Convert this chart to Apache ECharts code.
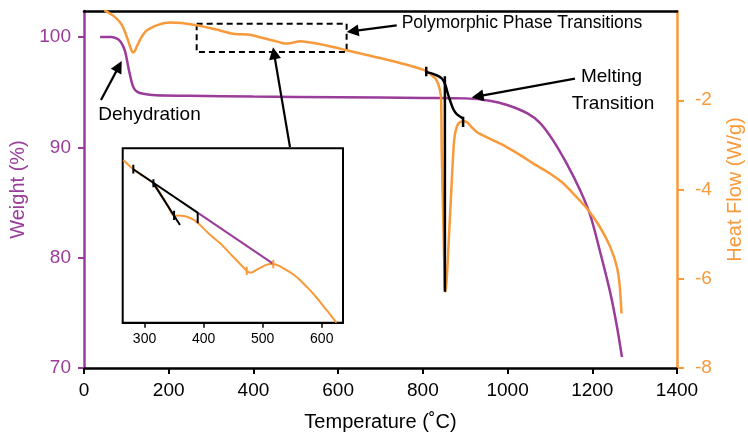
<!DOCTYPE html>
<html>
<head>
<meta charset="utf-8">
<script src="https://cdn.jsdelivr.net/npm/echarts@6/dist/echarts.min.js"></script>
<style>
  html, body { margin: 0; padding: 0; background: #fff; }
  #chart { width: 748px; height: 436px; }
</style>
</head>
<body>
<div id="chart"></div>
<script>
// Fonts and colours
const FONT = "'Liberation Sans', Arial, sans-serif";
const PURPLE = '#9a3c9a';
const ORANGE = '#f8993a';
const BLACK = '#000';

// Axis ticks
const tempTicks = [0, 200, 400, 600, 800, 1000, 1200, 1400];
const weightTicks = [70, 80, 90, 100];
const heatTicks = [-8, -6, -4, -2];
const insetTempTicks = [300, 400, 500, 600];

// TGA: weight loss vs temperature
const weightTemp = [38, 65, 78, 86, 92, 97, 101, 105, 109, 113, 118, 125, 140, 170, 250, 400, 600, 800, 900,
  958, 999, 1046, 1077, 1107, 1140, 1171, 1195, 1218, 1242, 1258, 1270];
const weightPct = [100, 100, 99.85, 99.6, 99.2, 98.7, 98.0, 97.2, 96.5, 95.85, 95.35, 95.05, 94.85, 94.72, 94.68, 94.6, 94.55, 94.48, 94.44,
  94.23, 93.84, 93.1, 92.2, 90.66, 88.5, 86.13, 83.87, 80.6, 76.9, 73.8, 71.0];

// DSC: heat flow vs temperature
const heatTemp = [48, 65, 77, 85, 92, 98, 104, 110, 115, 119, 124, 130, 136, 145, 156, 175, 203, 230, 266, 310,
  352, 392, 420, 446, 465, 478, 492, 510, 530, 549, 580, 620, 660, 706, 760, 805, 821, 830, 836, 840,
  843, 844.5, 848, 852, 854, 857, 860, 868, 873, 877, 884, 895, 904, 915, 927, 960, 998, 1030, 1061,
  1100, 1130, 1155, 1187, 1218, 1242, 1258, 1265, 1269];
const heatFlow = [0.02, -0.08, -0.17, -0.25, -0.36, -0.5, -0.66, -0.83, -0.93, -0.91, -0.81, -0.69, -0.58, -0.46, -0.39, -0.31, -0.26, -0.27, -0.32, -0.41,
  -0.51, -0.53, -0.6, -0.66, -0.71, -0.73, -0.71, -0.68, -0.7, -0.73, -0.79, -0.88, -0.97, -1.07, -1.2, -1.33, -1.44, -1.52, -1.63, -1.76,
  -1.95, -3.1, -4.6, -6.2, -6.29, -5.9, -5.36, -3.86, -3.0, -2.7, -2.52, -2.47, -2.49, -2.6, -2.71, -2.87, -3.05, -3.23, -3.42,
  -3.64, -3.85, -4.09, -4.42, -4.84, -5.28, -5.73, -6.18, -6.78];

// Melting onset construction (heat-flow units)
const meltCurveTemp = [809, 830, 844.5, 852, 858, 864, 872, 880, 895.5];
const meltCurveHeat = [-1.37, -1.43, -1.51, -1.63, -1.82, -2.0, -2.2, -2.31, -2.41];
const meltPeakTemp = 852;
const meltPeakRange = [-1.46, -6.29];
const meltTickTemp = [808, 895];
const meltTickTop = [-1.25, -2.37];
const meltTickBottom = [-1.46, -2.60];

// Polymorphic region box (temperature, heat flow)
const polyBoxTemp = [266, 620];
const polyBoxHeat = [-0.283, -0.919];

// Inset: enlarged polymorphic region (arbitrary heat-flow units)
const insetTemp = [264, 281, 298, 315, 332, 341, 350, 358, 366, 374, 382, 390, 410, 428, 450, 473, 477, 481,
  488, 496, 505, 512, 518, 528, 540, 552, 563, 575, 585, 597, 608, 617, 625];
const insetHeat = [93.3, 88.0, 84.0, 79.9, 71.3, 66.0, 61.2, 61.5, 61.2, 60.5, 59.2, 57.3, 50.7, 45.5, 37.8, 29.8, 28.8, 28.8,
  30.0, 31.5, 33.0, 33.6, 33.7, 32.6, 30.2, 27.6, 24.5, 20.4, 16.9, 12.0, 7.3, 3.5, 0];
const insetTangentA = [[281, 88.0], [391, 62.8]];
const insetTangentB = [[315, 79.9], [360, 56.0]];
const insetBaseline = [[391, 62.8], [518, 33.7]];
const insetBlackTickTemp = [281, 315, 350, 390];
const insetBlackTickTop = [90.5, 82.2, 64.2, 63.1];
const insetBlackTickBottom = [85.5, 77.6, 58.9, 57.0];
const insetOrangeTickTemp = [473, 518];
const insetOrangeTickTop = [32.1, 36.0];
const insetOrangeTickBottom = [27.4, 31.2];

// Annotation arrows: [start, end] in data units
const dehydrationArrow = [[40.1, 94.29], [82.4, 97.34]];          // weight axis
const polymorphArrow = [[738.2, -0.321], [634.3, -0.453]];        // heat-flow axis
const insetArrow = [[486.3, -3.05], [448.6, -0.946]];             // heat-flow axis
const meltingArrow = [[1159.2, -1.514], [929.2, -1.915]];         // heat-flow axis

const zip = (xs, ys) => xs.map((x, i) => [x, ys[i]]);
const plain = v => String(v);

function segment(pts, color, width, xIdx, yIdx, z, smooth) {
  return {
    type: 'line', xAxisIndex: xIdx, yAxisIndex: yIdx, data: pts,
    symbol: 'none', showSymbol: false, smooth: smooth || false,
    lineStyle: { color: color, width: width }, silent: true, z: z || 3
  };
}

function arrow(a) {
  return [
    { coord: a[0], symbol: 'none' },
    { coord: a[1], symbol: 'triangle', symbolSize: 12 }
  ];
}

const series = [
  {
    name: 'Weight', type: 'line', xAxisIndex: 0, yAxisIndex: 0,
    data: zip(weightTemp, weightPct), symbol: 'none', smooth: 0.3,
    lineStyle: { color: PURPLE, width: 2.5 }, z: 2,
    markLine: {
      silent: true, animation: false, label: { show: false },
      lineStyle: { color: BLACK, width: 2.2, type: 'solid' },
      data: [arrow(dehydrationArrow)]
    }
  },
  {
    name: 'Heat Flow', type: 'line', xAxisIndex: 0, yAxisIndex: 1,
    data: zip(heatTemp, heatFlow), symbol: 'none', smooth: 0.25,
    lineStyle: { color: ORANGE, width: 2.5 }, z: 2,
    markArea: {
      silent: true, label: { show: false },
      itemStyle: { color: 'rgba(0,0,0,0)', borderColor: BLACK, borderWidth: 2, borderType: [6, 4] },
      data: [[{ coord: [polyBoxTemp[0], polyBoxHeat[0]] }, { coord: [polyBoxTemp[1], polyBoxHeat[1]] }]]
    },
    markLine: {
      silent: true, animation: false, label: { show: false },
      lineStyle: { color: BLACK, width: 2.2, type: 'solid' },
      data: [arrow(polymorphArrow), arrow(insetArrow), arrow(meltingArrow)]
    }
  },
  segment(zip(meltCurveTemp, meltCurveHeat), BLACK, 2.5, 0, 1, 4, 0.4),
  segment([[meltPeakTemp, meltPeakRange[0]], [meltPeakTemp, meltPeakRange[1]]], BLACK, 2.5, 0, 1, 4)
];

meltTickTemp.forEach((t, i) => {
  series.push(segment([[t, meltTickTop[i]], [t, meltTickBottom[i]]], BLACK, 2.5, 0, 1, 4));
});

// Inset series
series.push(segment(zip(insetTemp, insetHeat), ORANGE, 2, 2, 2, 5, 0.3));
series.push(segment(insetTangentA, BLACK, 2, 2, 2, 6));
series.push(segment(insetTangentB, BLACK, 2, 2, 2, 6));
series.push(segment(insetBaseline, PURPLE, 2, 2, 2, 6));
insetBlackTickTemp.forEach((t, i) => {
  series.push(segment([[t, insetBlackTickTop[i]], [t, insetBlackTickBottom[i]]], BLACK, 2, 2, 2, 7));
});
insetOrangeTickTemp.forEach((t, i) => {
  series.push(segment([[t, insetOrangeTickTop[i]], [t, insetOrangeTickBottom[i]]], ORANGE, 2, 2, 2, 7));
});

const note = (txt, x, y, size, align) => ({
  type: 'text', x: x, y: y, z: 20, silent: true,
  style: { text: txt, font: size + 'px ' + FONT, fill: BLACK, align: align || 'center', verticalAlign: 'middle' }
});

const option = {
  animation: false,
  backgroundColor: '#fff',
  grid: [
    { left: 84, right: 71, top: 11, bottom: 68, containLabel: false, outerBoundsMode: 'none' },
    { left: 122.7, top: 148.3, width: 220.3, height: 174.4, show: true, outerBoundsMode: 'none',
      borderColor: BLACK, borderWidth: 2, backgroundColor: '#fff', z: 4 }
  ],
  xAxis: [
    {
      type: 'value', gridIndex: 0, min: 0, max: 1400, interval: 200, position: 'bottom',
      name: 'Temperature (\u02DAC)', nameLocation: 'middle', nameGap: 44,
      nameTextStyle: { fontFamily: FONT, fontSize: 20, color: BLACK },
      axisLine: { show: true, onZero: false, lineStyle: { color: BLACK, width: 2.5 } },
      axisTick: { show: true, inside: false, length: 6, lineStyle: { color: BLACK, width: 2 } },
      axisLabel: { fontFamily: FONT, fontSize: 19, color: BLACK, margin: 13, formatter: plain },
      splitLine: { show: false }
    },
    {
      type: 'value', gridIndex: 0, min: 0, max: 1400, position: 'top',
      axisLine: { show: true, onZero: false, lineStyle: { color: BLACK, width: 2.5 } },
      axisTick: { show: false }, axisLabel: { show: false }, splitLine: { show: false }
    },
    {
      type: 'value', gridIndex: 1, min: 263, max: 636, position: 'bottom',
      axisLine: { show: true, onZero: false, lineStyle: { color: BLACK, width: 2 } },
      axisTick: { show: true, length: 5, customValues: insetTempTicks, lineStyle: { color: BLACK, width: 1.5 } },
      axisLabel: { fontFamily: FONT, fontSize: 14, color: BLACK, margin: 9, customValues: insetTempTicks, formatter: plain },
      splitLine: { show: false }
    }
  ],
  yAxis: [
    {
      type: 'value', gridIndex: 0, min: 70, max: 102.36, position: 'left',
      name: 'Weight (%)', nameLocation: 'middle', nameGap: 52,
      nameTextStyle: { fontFamily: FONT, fontSize: 20, color: PURPLE },
      axisLine: { show: true, onZero: false, lineStyle: { color: PURPLE, width: 2.5 } },
      axisTick: { show: true, length: 6, customValues: weightTicks, lineStyle: { color: PURPLE, width: 2 } },
      axisLabel: { fontFamily: FONT, fontSize: 19, color: PURPLE, margin: 13, customValues: weightTicks, formatter: plain },
      splitLine: { show: false }
    },
    {
      type: 'value', gridIndex: 0, min: -8, max: 0, position: 'right',
      name: 'Heat Flow (W/g)', nameLocation: 'middle', nameGap: 48, nameRotate: 90,
      nameTextStyle: { fontFamily: FONT, fontSize: 20, color: ORANGE },
      axisLine: { show: true, onZero: false, lineStyle: { color: ORANGE, width: 2.5 } },
      axisTick: { show: true, length: 7, customValues: heatTicks, lineStyle: { color: ORANGE, width: 2 } },
      axisLabel: { fontFamily: FONT, fontSize: 19, color: ORANGE, margin: 18, customValues: heatTicks, formatter: plain },
      splitLine: { show: false }
    },
    {
      type: 'value', gridIndex: 1, min: 0, max: 100, show: false
    }
  ],
  series: series,
  graphic: [
    note('Dehydration', 149.5, 114.5, 19),
    note('Polymorphic Phase Transitions', 401.7, 23.3, 17.5, 'left'),
    note('Melting', 611.5, 76.5, 19),
    note('Transition', 613, 103.5, 19)
  ]
};

const chart = echarts.init(document.getElementById('chart'), null, { renderer: 'canvas' });
chart.setOption(option);
</script>
</body>
</html>
